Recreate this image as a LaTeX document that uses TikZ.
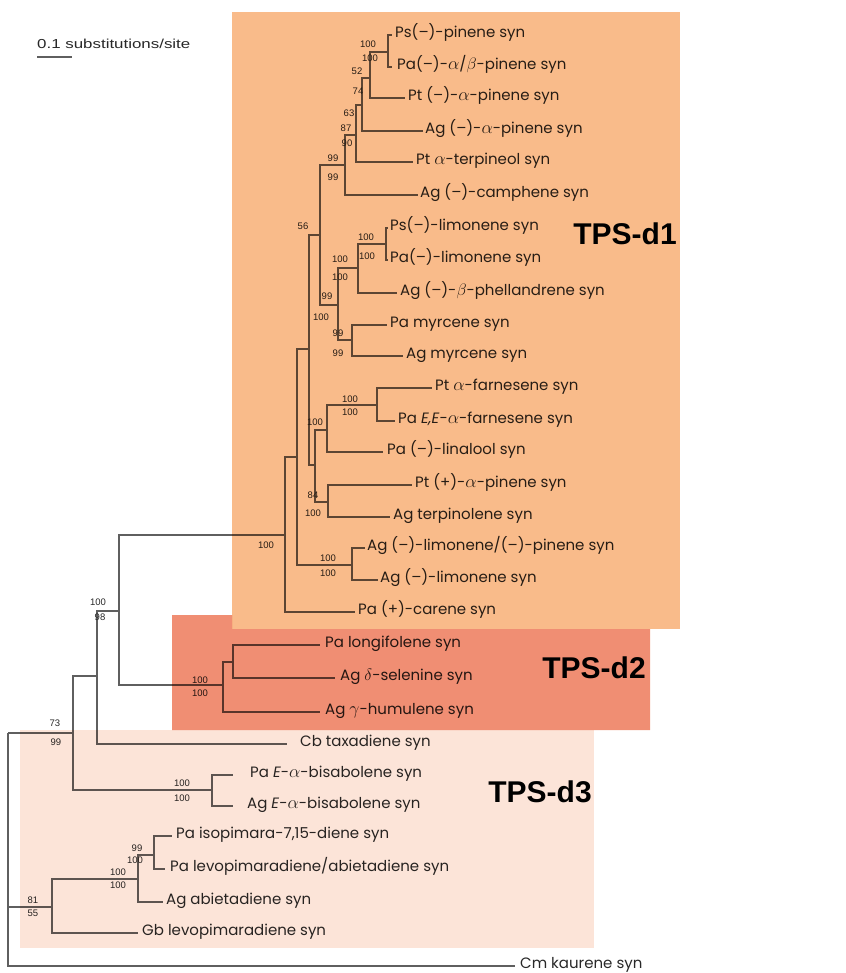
\documentclass[tikz,border=0pt]{standalone}
\usepackage{fontspec}
\usepackage{graphicx}
\newfontfamily\leaffam{Poppins}
\newfontfamily\helvfam{Liberation Sans}
\definecolor{done}{RGB}{249,187,138}
\definecolor{dtwo}{RGB}{240,142,115}
\definecolor{dthree}{RGB}{252,228,216}
\definecolor{linec}{RGB}{95,95,95}
\definecolor{textc}{RGB}{40,40,40}
\newcommand\leaffont{\leaffam\fontsize{15}{18}\selectfont}
\newcommand\bsfont{\helvfam\fontsize{9.5}{11}\selectfont}
\newcommand\tpsfont{\helvfam\bfseries\fontsize{30}{34}\selectfont}
\newcommand\Galpha{\scalebox{1.25}{$\alpha$}}
\newcommand\Gbeta{\scalebox{1.15}{$\beta$}}
\newcommand\Gdelta{\scalebox{1.15}{$\delta$}}
\newcommand\Ggamma{\scalebox{1.25}{$\gamma$}}
\tikzset{
  br/.style={draw=linec, line width=1.2pt},
  leaf/.style={anchor=west, inner sep=0pt, text=textc, font=\leaffont, text height=1.6ex, text depth=0.35ex},
  bs/.style={inner sep=0pt, text=textc, font=\bsfont},
  tps/.style={inner sep=0pt, text=black, font=\tpsfont},
}
\begin{document}
\begin{tikzpicture}[x=1pt,y=-1pt]
\useasboundingbox (0,0) rectangle (845,973);
% ---------- internal nodes ----------
\coordinate (nA) at (388,52);
\coordinate (nB) at (370,78);
\coordinate (nC) at (362,105);
\coordinate (nD) at (356,135);
\coordinate (nE) at (345,165);
\coordinate (nG) at (386,244);
\coordinate (nH) at (358,268);
\coordinate (nI) at (352,340);
\coordinate (nJ) at (338,305);
\coordinate (nF) at (320,235);
\coordinate (nFa) at (377,405);
\coordinate (nK) at (327,430);
\coordinate (nL) at (328,502);
\coordinate (nM) at (315,465);
\coordinate (nN) at (309,349);
\coordinate (nO) at (352,565);
\coordinate (nP) at (297,457);
\coordinate (nQ) at (285,535);
\coordinate (nR) at (233,662);
\coordinate (nS) at (223,685);
\coordinate (nT) at (119,611);
\coordinate (nU) at (97,676);
\coordinate (nBis) at (212,790);
\coordinate (nV) at (73,733);
\coordinate (nY) at (154,855);
\coordinate (nX) at (138,879);
\coordinate (nW) at (52,907);
\coordinate (nRoot) at (8,733);
% ---------- leaf tips ----------
\coordinate (t1) at (392,35);
\coordinate (t2) at (392,67);
\coordinate (t3) at (405,98);
\coordinate (t4) at (423,131);
\coordinate (t5) at (413,162);
\coordinate (t6) at (418,195);
\coordinate (t7) at (388,228);
\coordinate (t8) at (388,260);
\coordinate (t9) at (397,293);
\coordinate (t10) at (387,325);
\coordinate (t11) at (403,356);
\coordinate (t12) at (432,388);
\coordinate (t13) at (395,421);
\coordinate (t14) at (383,452);
\coordinate (t15) at (412,485);
\coordinate (t16) at (390,517);
\coordinate (t17) at (365,548);
\coordinate (t18) at (378,580);
\coordinate (t19) at (355,612);
\coordinate (t20) at (320,645);
\coordinate (t21) at (335,678);
\coordinate (t22) at (320,712);
\coordinate (t23) at (287,744);
\coordinate (t24) at (233,775);
\coordinate (t25) at (233,806);
\coordinate (t26) at (172,836);
\coordinate (t27) at (165,869);
\coordinate (t28) at (163,902);
\coordinate (t29) at (138,933);
\coordinate (t30) at (515,966);
% ---------- branches ----------
\draw[br] (nA) |- (t1); \draw[br] (nA) |- (t2);
\draw[br] (nB) |- (nA); \draw[br] (nB) |- (t3);
\draw[br] (nC) |- (nB); \draw[br] (nC) |- (t4);
\draw[br] (nD) |- (nC); \draw[br] (nD) |- (t5);
\draw[br] (nE) |- (nD); \draw[br] (nE) |- (t6);
\draw[br] (nG) |- (t7); \draw[br] (nG) |- (t8);
\draw[br] (nH) |- (nG); \draw[br] (nH) |- (t9);
\draw[br] (nI) |- (t10); \draw[br] (nI) |- (t11);
\draw[br] (nJ) |- (nH); \draw[br] (nJ) |- (nI);
\draw[br] (nF) |- (nE); \draw[br] (nF) |- (nJ);
\draw[br] (nFa) |- (t12); \draw[br] (nFa) |- (t13);
\draw[br] (nK) |- (nFa); \draw[br] (nK) |- (t14);
\draw[br] (nL) |- (t15); \draw[br] (nL) |- (t16);
\draw[br] (nM) |- (nK); \draw[br] (nM) |- (nL);
\draw[br] (nN) |- (nF); \draw[br] (nN) |- (nM);
\draw[br] (nO) |- (t17); \draw[br] (nO) |- (t18);
\draw[br] (nP) |- (nN); \draw[br] (nP) |- (nO);
\draw[br] (nQ) |- (nP); \draw[br] (nQ) |- (t19);
\draw[br] (nR) |- (t20); \draw[br] (nR) |- (t21);
\draw[br] (nS) |- (nR); \draw[br] (nS) |- (t22);
\draw[br] (nT) |- (nQ); \draw[br] (nT) |- (nS);
\draw[br] (nU) |- (nT); \draw[br] (nU) |- (t23);
\draw[br] (nBis) |- (t24); \draw[br] (nBis) |- (t25);
\draw[br] (nV) |- (nU); \draw[br] (nV) |- (nBis);
\draw[br] (nY) |- (t26); \draw[br] (nY) |- (t27);
\draw[br] (nX) |- (nY); \draw[br] (nX) |- (t28);
\draw[br] (nW) |- (nX); \draw[br] (nW) |- (t29);
\draw[br] (nRoot) |- (nV); \draw[br] (nRoot) |- (nW); \draw[br] (nRoot) |- (t30);
% ---------- leaf labels ----------
\node[leaf] (l1) at (395,35) {Ps(–)-pinene syn};
\node[leaf] (l2) at (397,67) {Pa(–)-\Galpha/\Gbeta-pinene syn};
\node[leaf] (l3) at (408,98) {Pt (–)-\Galpha-pinene syn};
\node[leaf] (l4) at (425,131) {Ag (–)-\Galpha-pinene syn};
\node[leaf] (l5) at (416,162) {Pt \Galpha-terpineol syn};
\node[leaf] (l6) at (420,195) {Ag (–)-camphene syn};
\node[leaf] (l7) at (390,228) {Ps(–)-limonene syn};
\node[leaf] (l8) at (390,260) {Pa(–)-limonene syn};
\node[leaf] (l9) at (400,293) {Ag (–)-\Gbeta-phellandrene syn};
\node[leaf] (l10) at (390,325) {Pa myrcene syn};
\node[leaf] (l11) at (406,356) {Ag myrcene syn};
\node[leaf] (l12) at (435,388) {Pt \Galpha-farnesene syn};
\node[leaf] (l13) at (398,421) {Pa \textit{E,E}-\Galpha-farnesene syn};
\node[leaf] (l14) at (387,452) {Pa (–)-linalool syn};
\node[leaf] (l15) at (415,485) {Pt (+)-\Galpha-pinene syn};
\node[leaf] (l16) at (393,517) {Ag terpinolene syn};
\node[leaf] (l17) at (367,548) {Ag (–)-limonene/(–)-pinene syn};
\node[leaf] (l18) at (380,580) {Ag (–)-limonene syn};
\node[leaf] (l19) at (358,612) {Pa (+)-carene syn};
\node[leaf] (l20) at (325,645) {Pa longifolene syn};
\node[leaf] (l21) at (340,678) {Ag \Gdelta-selenine syn};
\node[leaf] (l22) at (325,712) {Ag \Ggamma-humulene syn};
\node[leaf] (l23) at (300,744) {Cb taxadiene syn};
\node[leaf] (l24) at (250,775) {Pa \textit{E}-\Galpha-bisabolene syn};
\node[leaf] (l25) at (247,806) {Ag \textit{E}-\Galpha-bisabolene syn};
\node[leaf] (l26) at (176,836) {Pa isopimara-7,15-diene syn};
\node[leaf] (l27) at (170,869) {Pa levopimaradiene/abietadiene syn};
\node[leaf] (l28) at (166,902) {Ag abietadiene syn};
\node[leaf] (l29) at (142,933) {Gb levopimaradiene syn};
\node[leaf] (l30) at (520,966) {Cm kaurene syn};
% ---------- support values ----------
\node[bs] (bA1) at (368,44) {100}; \node[bs] (bA2) at (370,58) {100};
\node[bs] (bB1) at (357,71) {52};  \node[bs] (bB2) at (358,91) {74};
\node[bs] (bC1) at (349,113) {63};
\node[bs] (bD1) at (346,128) {87}; \node[bs] (bD2) at (347,143) {90};
\node[bs] (bE1) at (333,158) {99}; \node[bs] (bE2) at (333,177) {99};
\node[bs] (bF1) at (303,226) {56};
\node[bs] (bG1) at (366,237) {100}; \node[bs] (bG2) at (367,256) {100};
\node[bs] (bH1) at (340,259) {100}; \node[bs] (bH2) at (340,277) {100};
\node[bs] (bJ1) at (327,296) {99}; \node[bs] (bJ2) at (321,317) {100};
\node[bs] (bI1) at (338,333) {99}; \node[bs] (bI2) at (338,353) {99};
\node[bs] (bFa1) at (350,399) {100}; \node[bs] (bFa2) at (350,412) {100};
\node[bs] (bK1) at (315,422) {100};
\node[bs] (bL1) at (313,495) {84}; \node[bs] (bL2) at (313,513) {100};
\node[bs] (bO1) at (328,558) {100}; \node[bs] (bO2) at (328,573) {100};
\node[bs] (bQ1) at (266,545) {100};
\node[bs] (bT1) at (98,602) {100}; \node[bs] (bT2) at (100,617) {98};
\node[bs] (bS1) at (200,680) {100}; \node[bs] (bS2) at (200,693) {100};
\node[bs] (bV1) at (55,723) {73}; \node[bs] (bV2) at (56,742) {99};
\node[bs] (bBis1) at (182,783) {100}; \node[bs] (bBis2) at (182,798) {100};
\node[bs] (bY1) at (137,848) {99}; \node[bs] (bY2) at (135,860) {100};
\node[bs] (bX1) at (118,872) {100}; \node[bs] (bX2) at (118,885) {100};
\node[bs] (bW1) at (33,900) {81}; \node[bs] (bW2) at (33,913) {55};
% ---------- scale bar ----------
\node[anchor=west, inner sep=0pt, text=textc, font=\helvfam\fontsize{13}{15}\selectfont] (scl) at (37,44) {\scalebox{1.3}[1]{0.1 substitutions/site}};
\coordinate (sb1) at (37,57); \coordinate (sb2) at (72,57);
\draw[br] (sb1) -- (sb2);
% ---------- clade boxes (multiplied over the tree) ----------
\begin{scope}[blend mode=multiply]
\fill[dthree] (20,730) rectangle (594,948);
\fill[dtwo] (172,615) -- (232,615) -- (232,629) -- (650,629) -- (650,730) -- (172,730) -- cycle;
\fill[done] (232,12) rectangle (680,629);
\end{scope}
\node[tps] (d1) at (625,234) {TPS-d1};
\node[tps] (d2) at (594,668) {TPS-d2};
\node[tps] (d3) at (540,792) {TPS-d3};
\end{tikzpicture}
\end{document}
